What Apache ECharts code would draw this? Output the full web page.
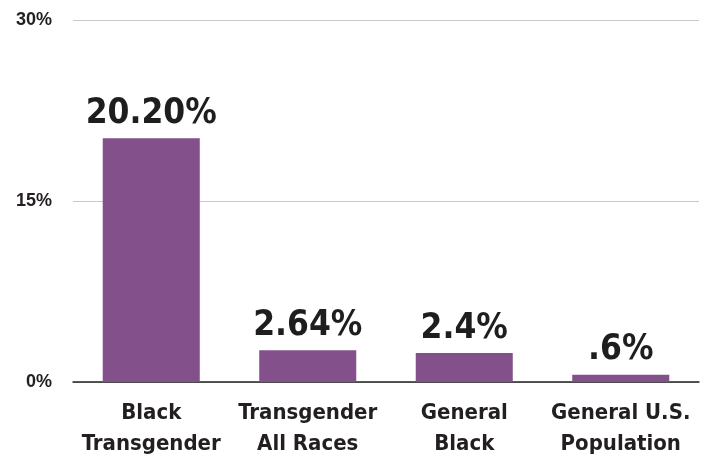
<!DOCTYPE html>
<html>
<head>
<meta charset="utf-8">
<script src="https://cdn.jsdelivr.net/npm/echarts@6/dist/echarts.min.js"></script>
<style>
  html, body { margin: 0; padding: 0; background: #fff; }
  #chart { width: 704px; height: 460px; }
</style>
</head>
<body>
<div id="chart"></div>
<script>
  var categories = ['Black\nTransgender', 'Transgender\nAll Races', 'General\nBlack', 'General U.S.\nPopulation'];
  var values = [20.2, 2.64, 2.4, 0.6];
  var valueLabels = ['20.20%', '2.64%', '2.4%', '.6%'];
  var yTicks = [0, 15, 30];

  var myChart = echarts.init(document.getElementById('chart'));
  myChart.setOption({
    animation: false,
    grid: {
      left: 73,
      right: 5,
      top: 20,
      bottom: 75
    },
    xAxis: {
      type: 'category',
      data: categories,
      axisTick: { show: false },
      axisLine: {
        lineStyle: { color: '#222', width: 1.5 }
      },
      axisLabel: {
        interval: 0,
        margin: 16,
        color: '#231f20',
        fontFamily: 'DejaVu Sans Condensed',
        fontWeight: 'bold',
        fontSize: 22,
        lineHeight: 31
      }
    },
    yAxis: {
      type: 'value',
      min: yTicks[0],
      max: yTicks[yTicks.length - 1],
      interval: 15,
      axisLine: { show: false },
      axisTick: { show: false },
      splitLine: {
        lineStyle: { color: '#c8c8c8', width: 1 }
      },
      axisLabel: {
        margin: 21,
        color: '#231f20',
        fontFamily: 'Liberation Sans',
        fontWeight: 'bold',
        fontSize: 18,
        formatter: function (v) { return v + '%'; }
      }
    },
    series: [{
      type: 'bar',
      data: values,
      barWidth: '62%',
      itemStyle: { color: '#83508b' },
      label: {
        show: true,
        position: 'top',
        distance: 7,
        color: '#1e1e1e',
        fontFamily: 'DejaVu Sans Condensed',
        fontWeight: 'bold',
        fontSize: 35,
        formatter: function (p) { return valueLabels[p.dataIndex]; }
      }
    }]
  });
</script>
</body>
</html>
